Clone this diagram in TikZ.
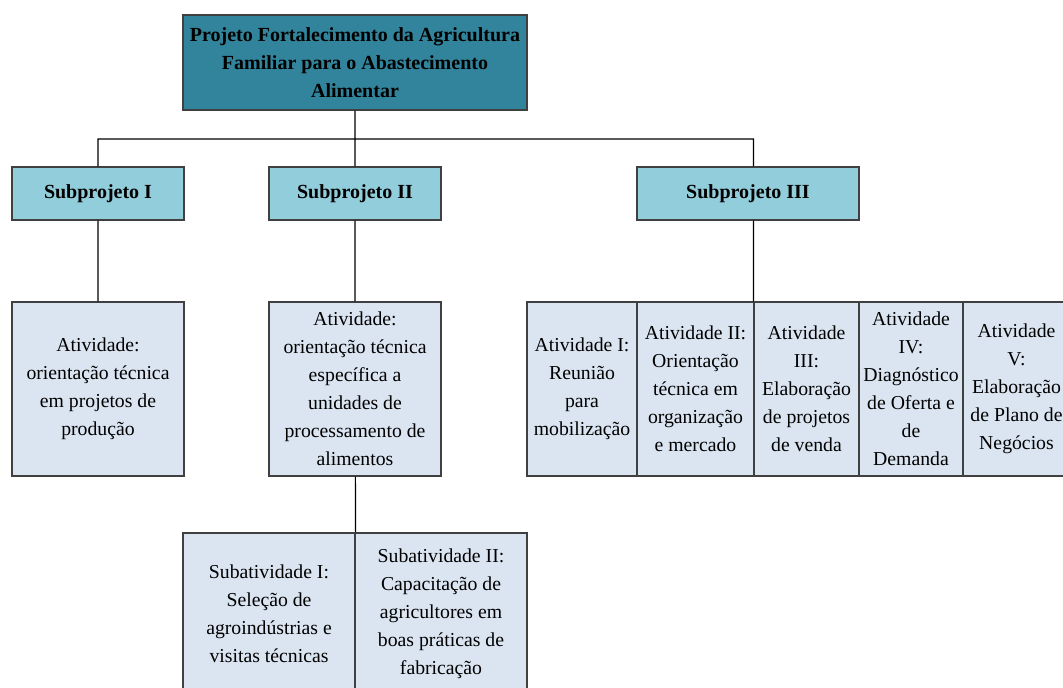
\documentclass[tikz,border=0pt]{standalone}
\usepackage{fontspec}
\setmainfont{Liberation Serif}
\usepackage{tikz}
\usetikzlibrary{positioning}

\definecolor{headteal}{RGB}{49,132,155}
\definecolor{subblue}{RGB}{146,205,220}
\definecolor{actblue}{RGB}{219,229,241}

\tikzset{
  box/.style={draw=black!75, line width=0.9pt, inner sep=1pt, align=center,
    font=\fontsize{14.8}{21}\selectfont},
  boxsize/.style 2 args={minimum width=#1*0.75pt, minimum height=#2*0.75pt},
  headbox/.style={box, fill=headteal, font=\fontsize{15}{21}\selectfont\bfseries},
  subbox/.style={box, fill=subblue, font=\fontsize{15}{21}\selectfont\bfseries},
  actbox/.style={box, fill=actblue},
  conn/.style={draw=black, line width=0.9pt}
}

\begin{document}
\begin{tikzpicture}[x=0.75pt, y=-0.75pt]
        \useasboundingbox (0,0) rectangle (1063,688);
        \clip (0,0) rectangle (1063,688);
        \node[headbox, boxsize={344}{95}] (top) at (355,62.5)
          {Projeto Fortalecimento da Agricultura\\ Familiar para o Abastecimento\\ Alimentar};
        \node[subbox, boxsize={172}{53}] (s1) at (98,193.5) {Subprojeto I};
        \node[subbox, boxsize={172}{53}] (s2) at (355,193.5) {Subprojeto II};
        \node[subbox, boxsize={222}{53}] (s3) at (748,193.5) {Subprojeto III};

        \node[actbox, boxsize={172}{174}] (a1) at (98,389)
          {Atividade:\\ orientação técnica\\ em projetos de\\ produção};
        \node[actbox, boxsize={172}{174}] (a2) at (355,389)
          {Atividade:\\ orientação técnica\\ específica a\\ unidades de\\ processamento de\\ alimentos};

        \node[actbox, boxsize={110}{174}] (r3a) at (582,389)
          {Atividade I:\\ Reunião\\ para\\ mobilização};
        \node[actbox, boxsize={117}{174}] (r3b) at (695.5,389)
          {Atividade II:\\ Orientação\\ técnica em\\ organização\\ e mercado};
        \node[actbox, boxsize={105}{174}] (r3c) at (806.5,389)
          {Atividade\\ III:\\ Elaboração\\ de projetos\\ de venda};
        \node[actbox, boxsize={104}{174}] (r3d) at (911,389)
          {Atividade\\ IV:\\ Diagnóstico\\ de Oferta e\\ de\\ Demanda};
        \node[actbox, boxsize={107}{174}] (r3e) at (1016.5,389)
          {Atividade\\ V:\\ Elaboração\\ de Plano de\\ Negócios};

        \node[actbox, boxsize={172}{162}] (b1) at (269,614)
          {Subatividade I:\\ Seleção de\\ agroindústrias e\\ visitas técnicas};
        \node[actbox, boxsize={172}{162}] (b2) at (441,614)
          {Subatividade II:\\ Capacitação de\\ agricultores em\\ boas práticas de\\ fabricação};

        \coordinate (bus) at (355,139);
        \path[conn]
        (top) -- (bus)
        (bus) -| (s1)
        (bus) -- (s2)
        (bus) -| (s3.north -| r3c.north west)
        (s1) -- (a1)
        (s2) -- (a2)
        (s3.south -| r3c.north west) -- (r3c.north west)
        (a2) -- (b1.north east)
        ;
\end{tikzpicture}
\end{document}
